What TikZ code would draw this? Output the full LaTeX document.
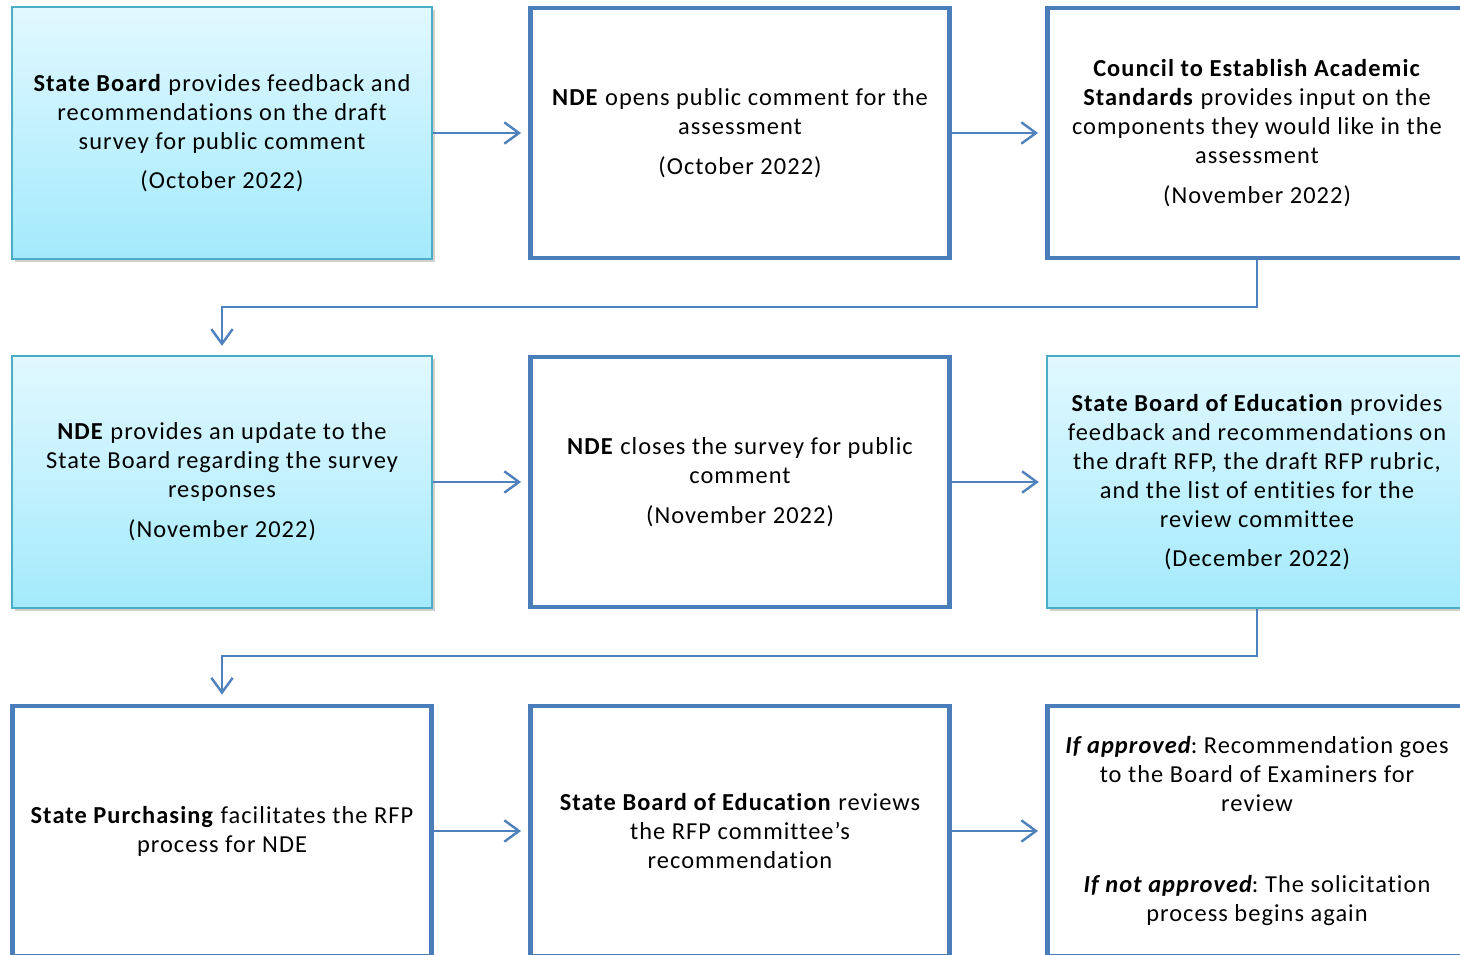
\documentclass[tikz,border=0pt]{standalone}
\usepackage{fontspec}
\setmainfont{Carlito}[LetterSpace=4.3, Ligatures={NoCommon}]
\frenchspacing
\usetikzlibrary{arrows.meta,shadows}
\definecolor{arrowblue}{HTML}{4F81BD}
\definecolor{boxblue}{HTML}{4A7EBB}
\definecolor{tealedge}{HTML}{4BACC6}
\definecolor{gradtop}{HTML}{E1F8FF}
\definecolor{gradbot}{HTML}{A3EAFC}
\tikzset{
  txt/.style={align=center, font=\fontsize{18.3pt}{21.75pt}\selectfont, text=black, inner sep=0pt},
  gradbox/.style={txt, rectangle, draw=tealedge, line width=1.3pt, top color=gradtop, bottom color=gradbot,
     minimum width=315pt, minimum height=189pt,
     drop shadow={shadow xshift=2.2pt, shadow yshift=-2.2pt, opacity=0.3, fill=black!60}},
  thickbox/.style={txt, rectangle, draw=boxblue, line width=3.2pt, fill=white,
     minimum width=314.25pt, minimum height=187.5pt},
  conn/.style={draw=arrowblue, line width=1.8pt,
     -{Straight Barb[length=11pt, width=16pt, line width=1.8pt]}},
}
\begin{document}
\begin{tikzpicture}[x=0.75pt,y=-0.75pt]
\useasboundingbox (0,0) rectangle (1460,955);
\clip (0,0) rectangle (1460,955);
\fill[white] (0,0) rectangle (1460,955);

% row 1
\node[gradbox]  (A1) at (222,133) {\textbf{State Board} provides feedback and\\ recommendations on the draft\\ survey for public comment\\[8pt] (October 2022)};
\node[thickbox] (B1) at (740,133) {\textbf{NDE} opens public comment for the\\ assessment\\[8pt] (October 2022)};
\node[thickbox] (C1) at (1257,133) {\textbf{Council to Establish Academic}\\ \textbf{Standards} provides input on the\\ components they would like in the\\ assessment\\[8pt] (November 2022)};

% row 2
\node[gradbox]  (A2) at (222,482) {\textbf{NDE} provides an update to the\\ State Board regarding the survey\\ responses\\[8pt] (November 2022)};
\node[thickbox] (B2) at (740,482) {\textbf{NDE} closes the survey for public\\ comment\\[8pt] (November 2022)};
\node[gradbox]  (C2) at (1257,482) {\textbf{State Board of Education} provides\\ feedback and recommendations on\\ the draft RFP, the draft RFP rubric,\\ and the list of entities for the\\ review committee\\[8pt] (December 2022)};

% row 3
\node[thickbox] (A3) at (222,831) {\textbf{State Purchasing} facilitates the RFP\\ process for NDE};
\node[thickbox] (B3) at (740,831) {\textbf{State Board of Education} reviews\\ the RFP committee’s\\ recommendation};
\node[thickbox] (C3) at (1257,831) {{\bfseries\itshape If approved}: Recommendation goes\\ to the Board of Examiners for\\ review\\[39pt] {\bfseries\itshape If not approved}: The solicitation\\ process begins again};

% horizontal connectors
\draw[conn, shorten >=5.5pt] (A1.east) -- (B1.west);
\draw[conn, shorten >=5.5pt] (B1.east) -- (C1.west);
\draw[conn, shorten >=5.5pt] (A2.east) -- (B2.west);
\draw[conn, shorten >=5.5pt] (B2.east) -- (C2.west);
\draw[conn, shorten >=5.5pt] (A3.east) -- (B3.west);
\draw[conn, shorten >=5.5pt] (B3.east) -- (C3.west);

% row-change connectors
\coordinate (k1) at (1257,307);
\coordinate (k2) at (1257,656);
\draw[conn, shorten >=7pt] (C1.south) -- (k1) -| (A2.north);
\draw[conn, shorten >=7pt] (C2.south) -- (k2) -| (A3.north);
\end{tikzpicture}
\end{document}
